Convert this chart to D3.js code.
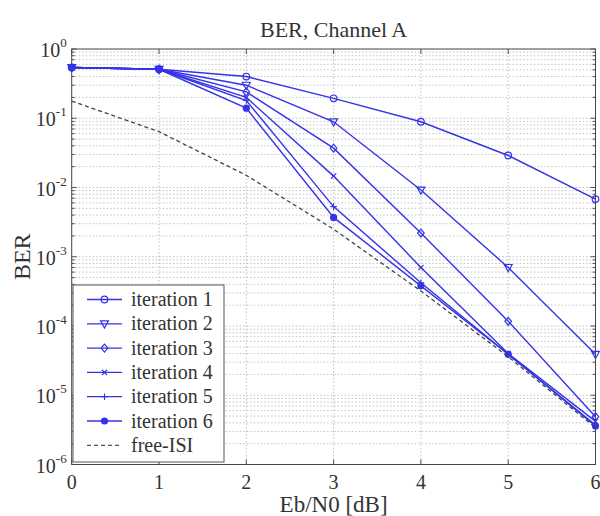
<!DOCTYPE html>
<html><head><meta charset="utf-8">
<script src="https://cdn.jsdelivr.net/npm/d3@7/dist/d3.min.js"></script>
<style>
body{margin:0;background:#fff;}
svg{display:block;}
</style></head>
<body>
<svg id="c" width="600" height="516" font-family="'Liberation Serif', 'Times New Roman', serif"></svg>
<script>
const snr = [0, 1, 2, 3, 4, 5, 6];
const iter1 = [0.54, 0.51, 0.40, 0.194, 0.089, 0.029, 0.0068];
const iter2 = [0.54, 0.51, 0.30, 0.089, 0.0092, 7.0e-4, 3.9e-5];
const iter3 = [0.54, 0.51, 0.24, 0.037, 0.0022, 1.17e-4, 4.9e-6];
const iter4 = [0.54, 0.51, 0.20, 0.0146, 7.0e-4, 4.0e-5, 4.2e-6];
const iter5 = [0.54, 0.51, 0.18, 0.0053, 4.2e-4, 3.9e-5, 3.7e-6];
const iter6 = [0.54, 0.51, 0.14, 0.0037, 3.8e-4, 3.9e-5, 3.6e-6];
const freeISI = [0.177, 0.064, 0.015, 0.0025, 3.2e-4, 3.6e-5, 3.4e-6];
const seriesNames = ["iteration 1","iteration 2","iteration 3","iteration 4","iteration 5","iteration 6","free-ISI"];
const markers = ["circle","triangle","diamond","x","plus","dot","none"];
const xTicks = [0,1,2,3,4,5,6];
const yExps = [0,-1,-2,-3,-4,-5,-6];

const series = [iter1, iter2, iter3, iter4, iter5, iter6, freeISI];
const svg = d3.select("#c");
const L = 71.7, R = 595.5, T = 49, B = 464.5;
const x = d3.scaleLinear().domain([0,6]).range([L,R]);
const y = d3.scaleLog().domain([1e-6,1]).range([B,T]);
const blue = "#3434e6";
const txt = "#333";

// grid
const g = svg.append("g");
const minor = [];
for (let e=-6;e<0;e++) for (let m=2;m<=9;m++) minor.push(m*Math.pow(10,e));
g.selectAll(".mn").data(minor).enter().append("line")
  .attr("x1",L).attr("x2",R).attr("y1",d=>y(d)).attr("y2",d=>y(d))
  .attr("stroke","#b4b4b4").attr("stroke-width",0.8).attr("stroke-dasharray","1.5,2");
g.selectAll(".mj").data(yExps.slice(1,-1)).enter().append("line")
  .attr("x1",L).attr("x2",R).attr("y1",d=>y(Math.pow(10,d))).attr("y2",d=>y(Math.pow(10,d)))
  .attr("stroke","#b0b0b0").attr("stroke-width",0.8).attr("stroke-dasharray","1.5,2");
g.selectAll(".vx").data(xTicks.slice(1,-1)).enter().append("line")
  .attr("x1",d=>x(d)).attr("x2",d=>x(d)).attr("y1",T).attr("y2",B)
  .attr("stroke","#b0b0b0").attr("stroke-width",0.8).attr("stroke-dasharray","1.5,2");

// axes ticks
const ax = svg.append("g").attr("stroke","#555").attr("stroke-width",1);
xTicks.forEach(t=>{
  ax.append("line").attr("x1",x(t)).attr("x2",x(t)).attr("y1",B).attr("y2",B-5);
  ax.append("line").attr("x1",x(t)).attr("x2",x(t)).attr("y1",T).attr("y2",T+5);
});
minor.forEach(v=>{
  ax.append("line").attr("x1",L).attr("x2",L+3).attr("y1",y(v)).attr("y2",y(v));
  ax.append("line").attr("x1",R).attr("x2",R-3).attr("y1",y(v)).attr("y2",y(v));
});
yExps.forEach(e=>{
  const v=Math.pow(10,e);
  ax.append("line").attr("x1",L).attr("x2",L+5).attr("y1",y(v)).attr("y2",y(v));
  ax.append("line").attr("x1",R).attr("x2",R-5).attr("y1",y(v)).attr("y2",y(v));
});
svg.append("rect").attr("x",L).attr("y",T).attr("width",R-L).attr("height",B-T)
  .attr("fill","none").attr("stroke","#444").attr("stroke-width",1);

// tick labels
xTicks.forEach(t=>{
  svg.append("text").attr("x",x(t)).attr("y",B+24).attr("text-anchor","middle")
    .attr("font-size",20).attr("fill",txt).text(t);
});
yExps.forEach(e=>{
  const tx = svg.append("text").attr("x",L-5).attr("y",y(Math.pow(10,e))+8)
    .attr("text-anchor","end").attr("font-size",20).attr("fill",txt);
  tx.append("tspan").text("10");
  tx.append("tspan").attr("dy",-10).attr("font-size",13).text(String(e));
});
svg.append("text").attr("x",(L+R)/2).attr("y",37).attr("text-anchor","middle")
  .attr("font-size",22).attr("fill",txt).text("BER, Channel A");
svg.append("text").attr("x",(L+R)/2).attr("y",512).attr("text-anchor","middle")
  .attr("font-size",23).attr("fill",txt).text("Eb/N0 [dB]");
svg.append("text").attr("transform","translate(30,"+((T+B)/2)+") rotate(-90)")
  .attr("text-anchor","middle").attr("font-size",24).attr("fill",txt).text("BER");

// lines
const line = d3.line().x((d,i)=>x(snr[i])).y(d=>y(d));
function drawMarker(sel, type, cx, cy){
  const s = 3.3;
  if (type==="circle") sel.append("circle").attr("cx",cx).attr("cy",cy).attr("r",s).attr("fill","none").attr("stroke",blue).attr("stroke-width",1.2);
  else if (type==="triangle") sel.append("path").attr("d",`M${cx-s*1.2},${cy-s*0.9}L${cx+s*1.2},${cy-s*0.9}L${cx},${cy+s*1.3}Z`).attr("fill","none").attr("stroke",blue).attr("stroke-width",1.2);
  else if (type==="diamond") sel.append("path").attr("d",`M${cx},${cy-s*1.2}L${cx+s},${cy}L${cx},${cy+s*1.2}L${cx-s},${cy}Z`).attr("fill","none").attr("stroke",blue).attr("stroke-width",1.2);
  else if (type==="x") sel.append("path").attr("d",`M${cx-s*0.8},${cy-s*0.8}L${cx+s*0.8},${cy+s*0.8}M${cx-s*0.8},${cy+s*0.8}L${cx+s*0.8},${cy-s*0.8}`).attr("stroke",blue).attr("stroke-width",1.1);
  else if (type==="plus") sel.append("path").attr("d",`M${cx-s},${cy}L${cx+s},${cy}M${cx},${cy-s}L${cx},${cy+s}`).attr("stroke",blue).attr("stroke-width",1.1);
  else if (type==="dot") sel.append("circle").attr("cx",cx).attr("cy",cy).attr("r",3.6).attr("fill",blue);
}
const pl = svg.append("g");
series.forEach((s,k)=>{
  const isFree = k===6;
  pl.append("path").datum(s).attr("d",line).attr("fill","none")
    .attr("stroke",isFree?"#444":blue).attr("stroke-width",isFree?1.3:1.4)
    .attr("stroke-dasharray",isFree?"4,3":null);
  if(!isFree) s.forEach((v,i)=>drawMarker(pl,markers[k],x(snr[i]),y(v)));
});

// legend
const lg = svg.append("g");
const lx=73, ly=285, lw=151, lh=177;
lg.append("rect").attr("x",lx).attr("y",ly).attr("width",lw).attr("height",lh)
  .attr("fill","#fff").attr("stroke","#555").attr("stroke-width",1);
seriesNames.forEach((n,k)=>{
  const yy = 299.5 + k*24.3;
  const isFree = k===6;
  lg.append("line").attr("x1",87).attr("x2",122).attr("y1",yy).attr("y2",yy)
    .attr("stroke",isFree?"#555":blue).attr("stroke-width",1.3)
    .attr("stroke-dasharray",isFree?"4,3":null);
  if(!isFree) drawMarker(lg,markers[k],104.5,yy);
  lg.append("text").attr("x",131).attr("y",yy+6.5).attr("font-size",20).attr("fill",txt).text(n);
});
</script>
</body></html>
